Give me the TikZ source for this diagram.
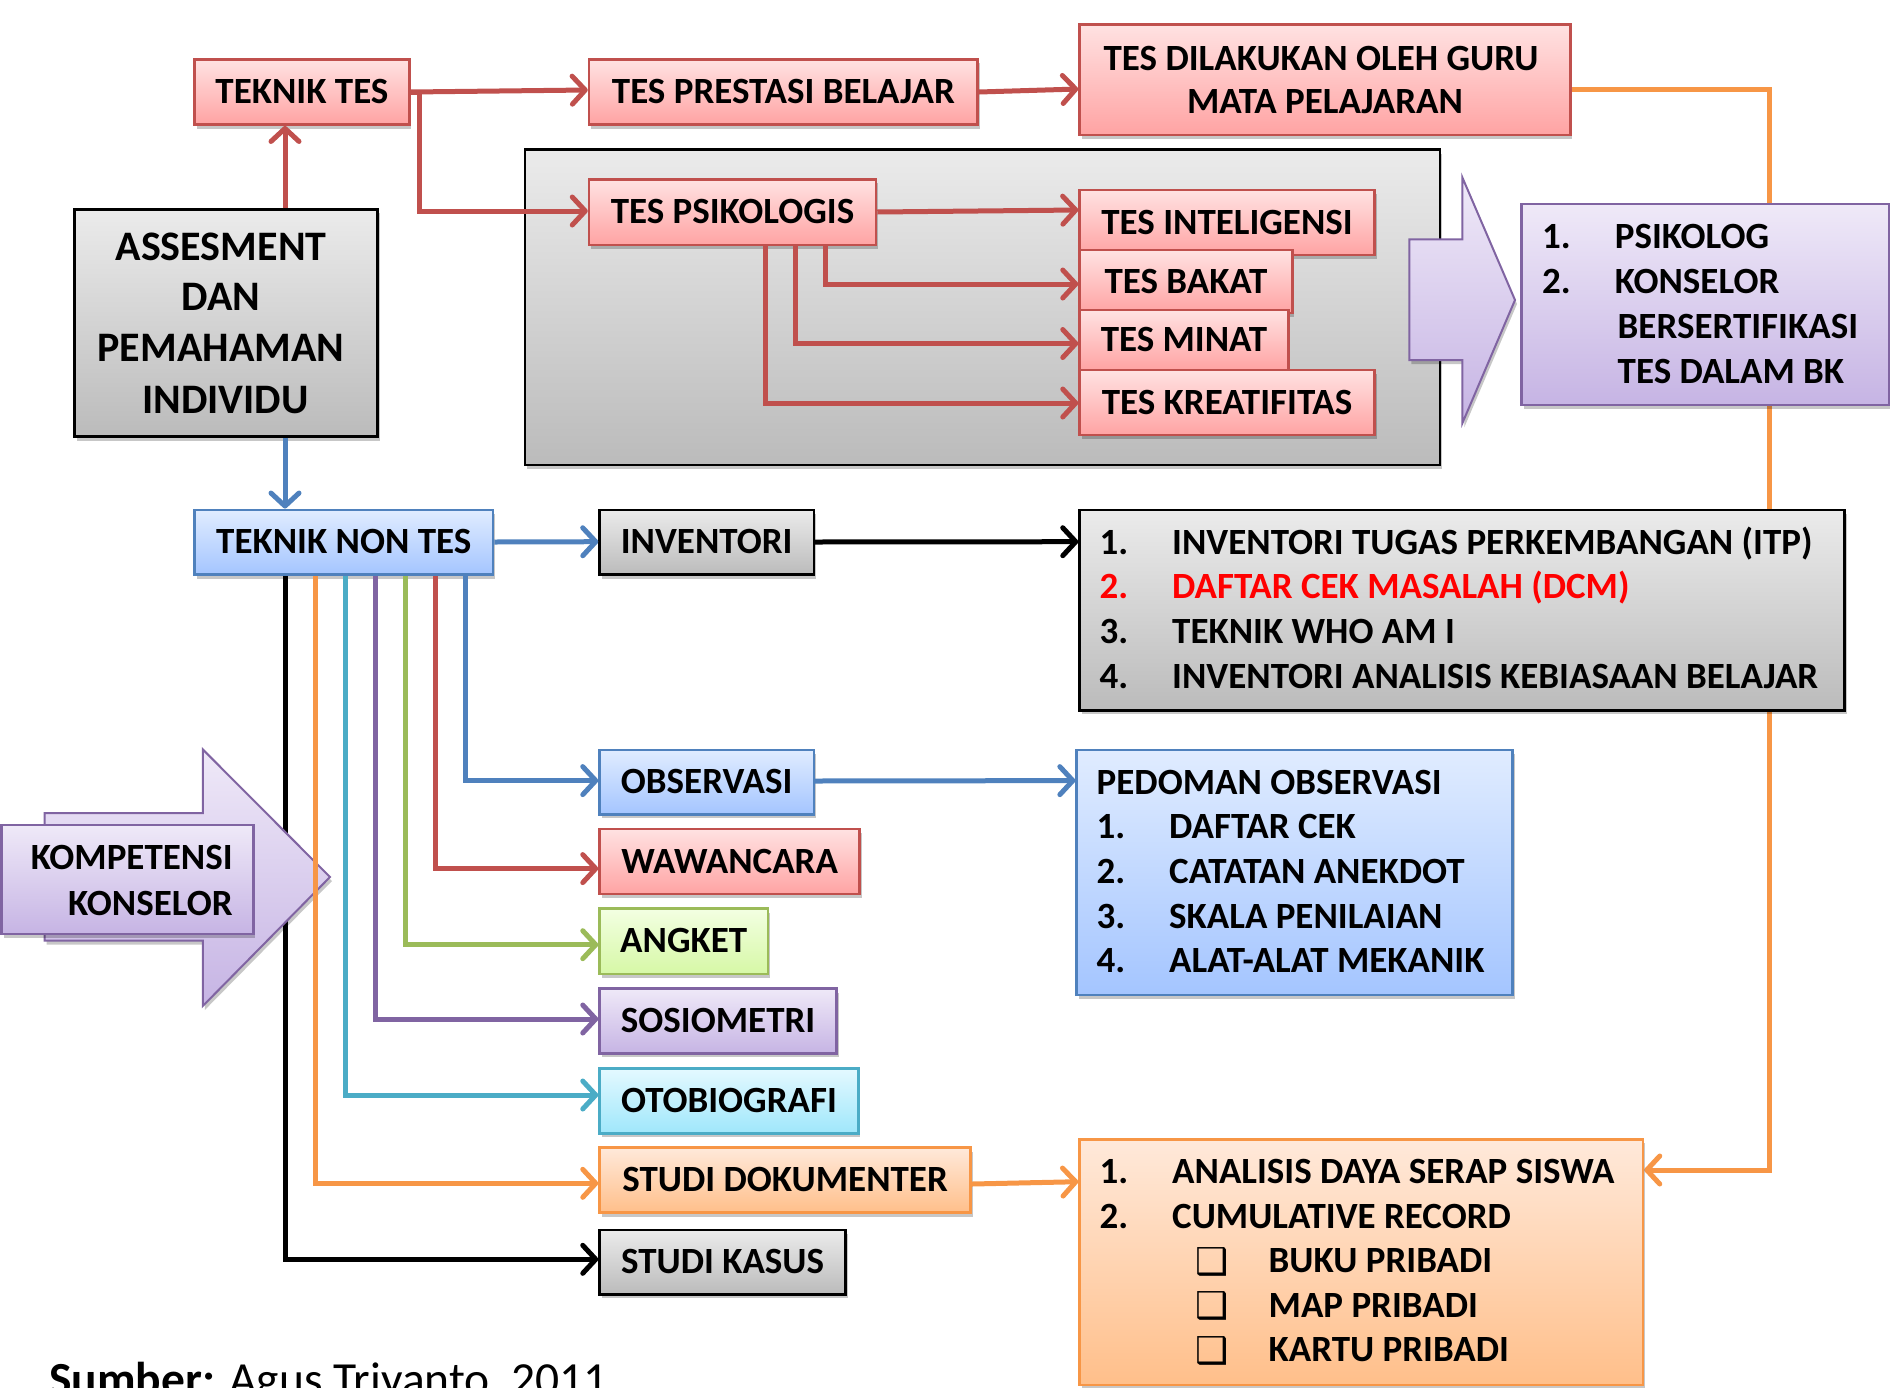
\documentclass[tikz,border=0pt]{standalone}
\usepackage{fontspec}
\setmainfont{Carlito}
\newfontfamily\djv{DejaVu Sans}
\usetikzlibrary{arrows.meta,shadows}
\pgfdeclarelayer{bg}
\pgfsetlayers{bg,main}
\definecolor{cred}{HTML}{C0504D}
\definecolor{cblue}{HTML}{4F81BD}
\definecolor{cpurple}{HTML}{8064A2}
\definecolor{cgreen}{HTML}{9BBB59}
\definecolor{cteal}{HTML}{4BACC6}
\definecolor{corange}{HTML}{F79646}
\definecolor{redT}{HTML}{FFE2E2}\definecolor{redB}{HTML}{FFA3A3}
\definecolor{bluT}{HTML}{E0ECFF}\definecolor{bluB}{HTML}{A4C5FF}
\definecolor{gryT}{HTML}{EBEBEB}\definecolor{gryB}{HTML}{BBBBBB}
\definecolor{purT}{HTML}{EFE9F8}\definecolor{purB}{HTML}{C6B4E4}
\definecolor{grnT}{HTML}{F3FFE2}\definecolor{grnB}{HTML}{D6F8A6}
\definecolor{tlT}{HTML}{E4F9FF}\definecolor{tlB}{HTML}{9FE7FB}
\definecolor{orT}{HTML}{FFE9DA}\definecolor{orB}{HTML}{FFBF8A}
\newcommand\fsA{\fontsize{37}{44}\selectfont\bfseries}
\newcommand\fsB{\fontsize{42}{50}\selectfont\bfseries}
\newcommand\fsC{\djv\fontsize{37}{37}\selectfont}
\newcommand\mkbox[7]{\node[#1, minimum width={(#5-#3)*1pt}, minimum height={(#6-#4)*1pt}] (#2) at ({(#3+#5)/2},{(#4+#6)/2}) {#7};}
\tikzset{
  sh/.style={drop shadow={shadow xshift=2pt,shadow yshift=-4pt,opacity=0.22,fill=black}},
  bx/.style={rectangle, inner sep=0pt, line width=2.5pt, font=\fsA, text height=23.4pt, text depth=0pt, sh},
  redbx/.style={bx, draw=cred, top color=redT, bottom color=redB},
  blubx/.style={bx, draw=cblue, top color=bluT, bottom color=bluB},
  grybx/.style={bx, draw=black, top color=gryT, bottom color=gryB},
  purbx/.style={bx, draw=cpurple, top color=purT, bottom color=purB},
  grnbx/.style={bx, draw=cgreen, top color=grnT, bottom color=grnB},
  tlbx/.style={bx, draw=cteal, top color=tlT, bottom color=tlB},
  orbx/.style={bx, draw=corange, top color=orT, bottom color=orB},
  tx/.style={inner sep=0pt, anchor=base west, font=\fsA},
  txc/.style={inner sep=0pt, anchor=base, font=\fsA},
  txe/.style={inner sep=0pt, anchor=base east, font=\fsA},
  cn/.style={line width=5pt, -{Straight Barb[length=13pt,width=28pt,round]}},
}
\begin{document}
\begin{tikzpicture}[x=1pt,y=-1pt]
\useasboundingbox (0,0) rectangle (1890,1387);
% container
\mkbox{grybx, line width=2.5pt}{cont}{525}{149.7}{1440}{465}{}
% right block arrow
\path[draw=cpurple, line width=2pt, top color=purT, bottom color=purB, sh]
  (1409.3,239.3) -- (1462.3,239.3) -- (1462.3,177.3) -- (1515,300) -- (1462.3,423.3) -- (1462.3,360) -- (1409.3,360) -- cycle;
% boxes
\mkbox{redbx}{tt}{194.5}{59.3}{409.4}{124.7}{TEKNIK TES}
\mkbox{redbx}{pres}{589}{59.3}{977.7}{124.7}{TES PRESTASI BELAJAR}
\mkbox{redbx}{dil}{1079.5}{24.3}{1570.4}{135}{}
\node[txc] (dil1) at (1321,70) {TES DILAKUKAN OLEH GURU};
\node[txc] (dil2) at (1325,113.3) {MATA PELAJARAN};
\mkbox{redbx}{psi}{589}{179.3}{876}{245}{TES PSIKOLOGIS}
\mkbox{redbx}{int}{1079.5}{190}{1374.6}{255}{TES INTELIGENSI}
\mkbox{redbx}{bak}{1079.5}{250}{1292.3}{313}{TES BAKAT}
\mkbox{redbx}{min}{1079.5}{310}{1288.3}{370}{TES MINAT}
\mkbox{redbx}{kre}{1079.5}{370}{1374.6}{435}{TES KREATIFITAS}
\mkbox{grybx}{ass}{74.6}{209.3}{377.6}{436.7}{}
\node[txc,font=\fsB] (as1) at (221,260) {ASSESMENT};
\node[txc,font=\fsB] (as2) at (221,310) {DAN};
\node[txc,font=\fsB] (as3) at (221,361.7) {PEMAHAMAN};
\node[txc,font=\fsB] (as4) at (225.5,413.3) {INDIVIDU};
\mkbox{purbx}{psk}{1521.7}{204}{1889}{405}{}
\node[tx] (pk1n) at (1542,248) {1.};
\node[tx] (pk1) at (1614.7,248) {PSIKOLOG};
\node[tx] (pk2n) at (1542,293) {2.};
\node[tx] (pk2) at (1614.7,293) {KONSELOR};
\node[tx] (pk3) at (1617.5,338) {BERSERTIFIKASI};
\node[tx] (pk4) at (1617.5,383) {TES DALAM BK};
\mkbox{blubx}{nt}{194.5}{509.8}{493}{574.7}{TEKNIK NON TES}
\mkbox{grybx}{inv}{599.5}{509.8}{813.8}{574.7}{INVENTORI}
\mkbox{grybx}{invl}{1079.5}{509.8}{1844.6}{710.4}{}
\node[tx] (il1n) at (1099.3,554.4) {1.};
\node[tx] (il1) at (1172,554.4) {INVENTORI TUGAS PERKEMBANGAN (ITP)};
\node[tx,text=red] (il2n) at (1099.3,598.6) {2.};
\node[tx,text=red] (il2) at (1172,598.6) {DAFTAR CEK MASALAH (DCM)};
\node[tx] (il3n) at (1099.3,643.5) {3.};
\node[tx] (il3) at (1172,643.5) {TEKNIK WHO AM I};
\node[tx] (il4n) at (1099.3,688.7) {4.};
\node[tx] (il4) at (1172,688.7) {INVENTORI ANALISIS KEBIASAAN BELAJAR};
\mkbox{blubx}{obs}{599.5}{750}{813.8}{814.3}{OBSERVASI}
\mkbox{blubx}{ped}{1076.6}{750}{1512.5}{995}{}
\node[tx] (pd0) at (1096.5,794) {PEDOMAN OBSERVASI};
\node[tx] (pd1n) at (1096.5,838.5) {1.};
\node[tx] (pd1) at (1169,838.5) {DAFTAR CEK};
\node[tx] (pd2n) at (1096.5,883.4) {2.};
\node[tx] (pd2) at (1169,883.4) {CATATAN ANEKDOT};
\node[tx] (pd3n) at (1096.5,928.3) {3.};
\node[tx] (pd3) at (1169,928.3) {SKALA PENILAIAN};
\node[tx] (pd4n) at (1096.5,972.8) {4.};
\node[tx] (pd4) at (1169,972.8) {ALAT-ALAT MEKANIK};
\mkbox{redbx}{waw}{599.5}{829}{859.7}{894}{WAWANCARA}
\mkbox{grnbx}{ang}{599.5}{908.6}{767.9}{973.9}{ANGKET}
\mkbox{purbx}{sos}{599.5}{988.6}{836.7}{1053.3}{SOSIOMETRI}
\mkbox{tlbx}{oto}{599.5}{1068.3}{858.4}{1133.3}{OTOBIOGRAFI}
\mkbox{orbx}{dok}{599.5}{1147.7}{970.7}{1212.7}{STUDI DOKUMENTER}
\mkbox{grybx}{kas}{599.5}{1230}{845.7}{1294.3}{STUDI KASUS}
\mkbox{orbx}{orl}{1079.5}{1139.3}{1643}{1385}{}
\node[tx] (or1n) at (1099.3,1183.3) {1.};
\node[tx] (or1) at (1172,1183.3) {ANALISIS DAYA SERAP SISWA};
\node[tx] (or2n) at (1099.3,1228.3) {2.};
\node[tx] (or2) at (1172,1228.3) {CUMULATIVE RECORD};
\node[tx,font=\fsC] (cb1) at (1195,1274) {\textbf{❑}};
\node[tx] (or3) at (1268.5,1272.7) {BUKU PRIBADI};
\node[tx,font=\fsC] (cb2) at (1195,1318.6) {\textbf{❑}};
\node[tx] (or4) at (1268.5,1317.3) {MAP PRIBADI};
\node[tx,font=\fsC] (cb3) at (1195,1363) {\textbf{❑}};
\node[tx] (or5) at (1268.5,1361.7) {KARTU PRIBADI};
\node[tx,font=\fontsize{47.5}{50}\selectfont] (src) at (49,1395) {\textbf{Sumber:} Agus Triyanto, 2011};
% connectors
\begin{pgfonlayer}{bg}
\draw[cn,draw=corange] (dil.east |- 0,89.3) -| (1769.7,1170) -- (orl.east |- 0,1170);
\end{pgfonlayer}
\draw[cn,draw=cred] (ass.north -| 285,0) -- (tt.south -| 285,0);
\draw[cn,draw=cred] (tt.east |- 0,92) -- (pres.west |- 0,90);
\draw[cn,draw=cred] (tt.east |- 0,92) -- (419.6,92) |- (psi.west |- 0,211);
\draw[cn,draw=cred] (pres.east |- 0,92) -- (dil.west |- 0,89);
\draw[cn,draw=cred] (psi.east |- 0,212) -- (int.west |- 0,210);
\draw[cn,draw=cred] (psi.south -| 825,0) |- (bak.west |- 0,284);
\draw[cn,draw=cred] (psi.south -| 795,0) |- (min.west |- 0,343.5);
\draw[cn,draw=cred] (psi.south -| 765,0) |- (kre.west |- 0,403);
\draw[cn,draw=cblue] (ass.south -| 285,0) -- (nt.north -| 285,0);
\draw[cn,draw=cblue] (nt.east |- 0,542) -- (inv.west |- 0,541.7);
\draw[cn,draw=black] (inv.east |- 0,542) -- (invl.west |- 0,541.7);
\draw[cn,draw=cblue] (obs.east |- 0,781) -- (ped.west |- 0,780.6);
\draw[cn,draw=corange] (dok.east |- 0,1184) -- (orl.west |- 0,1181.7);
\draw[cn,draw=black] (nt.south -| 285,0) |- (kas.west |- 0,1259.3);
% kompetensi
\path[draw=cpurple, line width=2pt, top color=purT, bottom color=purB, sh]
  (44.6,813) -- (202.8,813) -- (202.8,749.4) -- (330,877) -- (202.8,1006) -- (202.8,940.5) -- (44.6,940.5) -- cycle;
\mkbox{purbx}{kmp}{1.5}{825}{253.3}{934}{}
\node[txe] (km1) at (232.8,869.3) {KOMPETENSI};
\node[txe] (km2) at (232.8,915) {KONSELOR};
\draw[cn,draw=corange] (nt.south -| 315,0) |- (dok.west |- 0,1183.3);
\draw[cn,draw=cteal] (nt.south -| 345,0) |- (oto.west |- 0,1095);
\draw[cn,draw=cpurple] (nt.south -| 375,0) |- (sos.west |- 0,1019);
\draw[cn,draw=cgreen] (nt.south -| 405,0) |- (ang.west |- 0,944.7);
\draw[cn,draw=cred] (nt.south -| 435,0) |- (waw.west |- 0,868.6);
\draw[cn,draw=cblue] (nt.south -| 465,0) |- (obs.west |- 0,780.6);
\end{tikzpicture}
\end{document}
